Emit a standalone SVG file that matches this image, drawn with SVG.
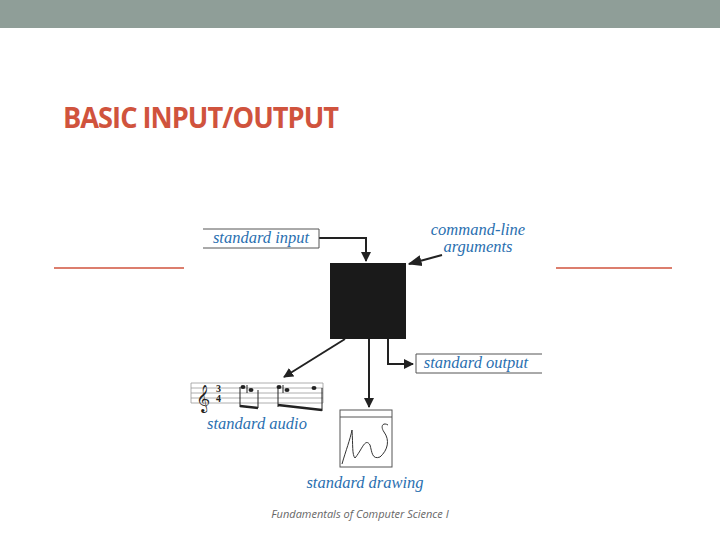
<svg xmlns="http://www.w3.org/2000/svg" width="720" height="540" viewBox="0 0 720 540">
<style>
.lbl{font-family:"Liberation Serif",serif;font-style:italic;font-size:16.5px;fill:#2a6fb0}
.ln{stroke:#222;stroke-width:2;fill:none}
.box{stroke:#555;stroke-width:1;fill:none}
</style>
<defs>
<marker id="ah" viewBox="0 0 10 10" refX="9" refY="5" markerWidth="5" markerHeight="5" orient="auto"><path d="M0,0L10,5L0,10z" fill="#222"/></marker>
<marker id="ahs" viewBox="0 0 10 10" refX="9" refY="5" markerWidth="7" markerHeight="7" orient="auto"><path d="M0,1L10,5L0,9z" fill="#222"/></marker>
</defs>
<rect width="720" height="540" fill="#fff"/>
<rect width="720" height="28" fill="#8f9e98"/>
<text x="63" y="128" font-family="Open Sans,sans-serif" font-weight="bold" font-size="28" fill="#d0533d" letter-spacing="-1" textLength="275" lengthAdjust="spacingAndGlyphs">BASIC INPUT/OUTPUT</text>
<line x1="54" y1="268" x2="184" y2="268" stroke="#d0533d" stroke-width="1.5"/>
<line x1="556" y1="268" x2="672" y2="268" stroke="#d0533d" stroke-width="1.5"/>
<g id="connectors">
<path class="ln" d="M319,238H366V261" marker-end="url(#ah)"/>
<path class="ln" d="M442,255L409,264" stroke-width="1.2" marker-end="url(#ahs)"/>
<path class="ln" d="M388,339V364H413" marker-end="url(#ah)"/>
<path class="ln" d="M345,339L284,377" marker-end="url(#ah)"/>
<path class="ln" d="M369,339V407" marker-end="url(#ah)"/>
</g>
<g id="program"><rect x="330" y="263" width="76" height="76" fill="#1a1a1a"/></g>
<g id="stdin"><path class="box" d="M203,229H319V248H203"/><text class="lbl" x="261" y="243" text-anchor="middle">standard input</text></g>
<g id="args"><text class="lbl" x="478" y="235" text-anchor="middle">command-line</text><text class="lbl" x="478" y="252" text-anchor="middle">arguments</text></g>
<g id="stdout"><path class="box" d="M542,354H416V373H542"/><text class="lbl" x="476" y="368" text-anchor="middle">standard output</text></g>
<g id="audio">
<g stroke="#999" stroke-width="0.8"><line x1="191" y1="383" x2="323" y2="383"/><line x1="191" y1="388" x2="323" y2="388"/><line x1="191" y1="393" x2="323" y2="393"/><line x1="191" y1="398" x2="323" y2="398"/><line x1="191" y1="403" x2="323" y2="403"/><line x1="191" y1="383" x2="191" y2="403"/><line x1="323" y1="383" x2="323" y2="403"/></g>
<text x="196" y="406" font-family="DejaVu Sans,sans-serif" font-size="24" fill="#222">𝄞</text>
<text x="216" y="392" font-family="Liberation Serif,serif" font-weight="bold" font-size="10" fill="#222">3</text>
<text x="216" y="402" font-family="Liberation Serif,serif" font-weight="bold" font-size="10" fill="#222">4</text>
<g fill="#222"><ellipse cx="243" cy="387" rx="2.5" ry="2"/><ellipse cx="251" cy="390" rx="2.5" ry="2"/><ellipse cx="279" cy="387" rx="2.5" ry="2"/><ellipse cx="287" cy="390" rx="2.5" ry="2"/><ellipse cx="314" cy="388" rx="2.5" ry="2"/></g>
<g stroke="#222" stroke-width="1"><line x1="240" y1="387" x2="240" y2="407"/><line x1="258" y1="390" x2="258" y2="408"/><line x1="278" y1="387" x2="278" y2="407"/><line x1="322" y1="388" x2="322" y2="411"/><line x1="247" y1="385" x2="247" y2="393"/><line x1="283" y1="385" x2="283" y2="393"/></g>
<path d="M240,406L258,408M278,405L322,410" stroke="#222" stroke-width="2.5"/>
<text class="lbl" x="257" y="429" text-anchor="middle">standard audio</text>
</g>
<g id="drawing">
<rect class="box" x="340" y="410" width="52" height="57"/><line class="box" x1="340" y1="417" x2="392" y2="417"/>
<path d="M342,464C346,450 350,440 352,430C353,445 352,455 355,458C362,450 365,437 370,445C372,452 372,460 380,457C388,450 390,440 384,432C380,426 383,422 388,425" fill="none" stroke="#333" stroke-width="1"/>
<text class="lbl" x="365" y="488" text-anchor="middle">standard drawing</text>
</g>
<text x="360" y="518" text-anchor="middle" font-family="Open Sans,sans-serif" font-style="italic" font-size="11" fill="#666">Fundamentals of Computer Science  I</text>
</svg>
